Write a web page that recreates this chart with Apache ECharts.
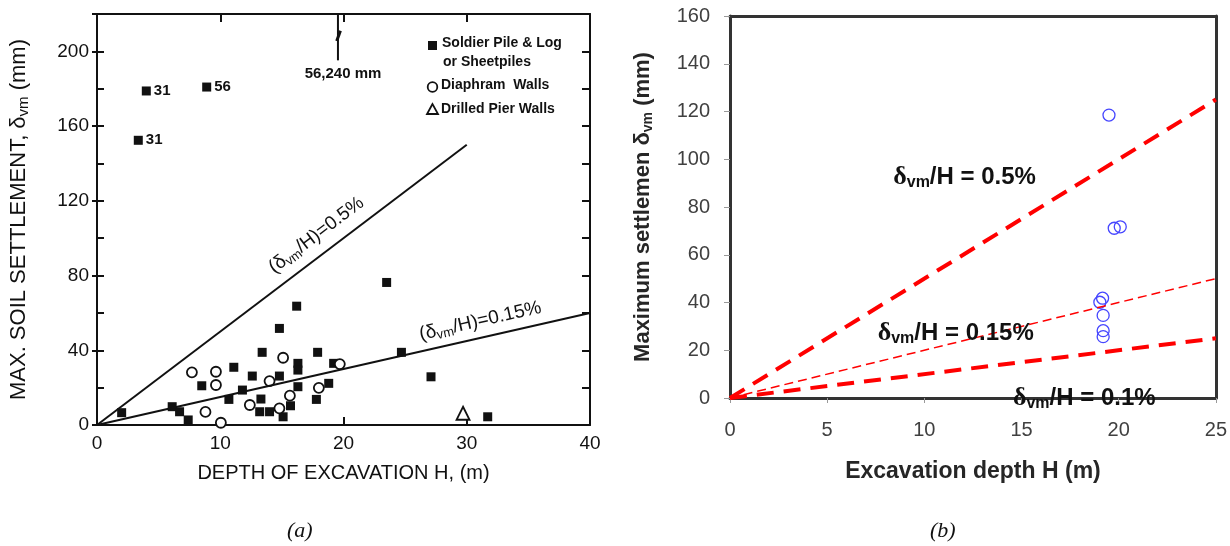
<!DOCTYPE html>
<html><head><meta charset="utf-8">
<script src="https://cdn.jsdelivr.net/npm/echarts@6/dist/echarts.min.js"></script>
<style>html,body{margin:0;padding:0;background:#fff}#c{width:1230px;height:546px}</style>
</head><body><div id="c"></div>
<script>
// ---------- Chart (a) data ----------
const xTicksA = [0, 10, 20, 30, 40];
const yTicksA = [0, 40, 80, 120, 160, 200];
const yMaxA = 220;
const soldierPile = [
  [2.0,6.6],[6.1,9.8],[6.7,7.1],[7.4,2.7],[8.5,21.0],[10.7,13.7],[11.1,30.9],[11.8,18.7],
  [12.6,26.2],[13.4,38.9],[13.3,13.9],[13.2,7.1],[14.0,7.1],[14.8,26.2],[14.8,51.7],[15.1,4.4],
  [15.7,10.3],[16.2,63.6],[16.3,33.0],[16.3,29.4],[16.3,20.5],[17.8,13.7],[17.9,38.9],[18.8,22.3],
  [19.2,33.0],[23.5,76.3],[24.7,38.9],[27.1,25.8],[31.7,4.4]
];
const soldierPileHigh = [[4.0,178.8],[3.35,152.4],[8.9,180.9]];
const soldierPileHighTags = ['31','31','56'];
const diaphragm = [
  [7.7,28.2],[8.8,7.0],[9.65,28.5],[9.65,21.4],[10.05,1.2],[12.4,10.7],[14.0,23.5],
  [14.8,8.9],[15.1,36.0],[15.65,15.7],[18.0,19.9],[19.7,32.6]
];
const drilledPier = [[29.7,6.3]];
const limitA05 = [[0,0],[30,150]];
const limitA015 = [[0,0],[40,60]];
const offscaleMarker = [[19.55,195.2],[19.55,220]];
const offscaleBreak = [[19.45,205.5],[19.75,211]];

// ---------- Chart (b) data ----------
const xTicksB = [0, 5, 10, 15, 20, 25];
const yTicksB = [0, 20, 40, 60, 80, 100, 120, 140, 160];
const measured = [
  [19.5,118.5],[19.77,71.1],[20.08,71.7],[19.17,41.8],[19.03,40.1],[19.2,34.6],[19.2,28.2],[19.2,25.7]
];
const limitB05 = [[0,0],[25,125]];
const limitB015 = [[0,0],[25,50]];
const limitB01 = [[0,0],[25,25]];

const FONT = 'Liberation Sans, Arial, sans-serif';
const INK = '#111';
const chart = echarts.init(document.getElementById('c'), null, {renderer:'canvas'});

function note(xi, yi, pos, text, label) {
  return {
    type:'scatter', xAxisIndex:xi, yAxisIndex:yi, symbolSize:0, silent:true, clip:false, z:5,
    itemStyle:{opacity:1},
    data:[{value:pos}],
    label:Object.assign({show:true, formatter:text}, label)
  };
}

const subA = {fontSize:13, padding:[9,0,0,0], fontFamily:FONT, color:INK};
const labelA = {position:'inside', fontSize:19, color:INK, fontFamily:FONT, rich:{s:subA}};
const subB = {fontSize:16, fontWeight:'bold', padding:[11,0,0,0], fontFamily:FONT, color:'#111'};
const deltaB = {fontSize:26, fontFamily:'Liberation Serif, serif', color:'#111'};
const labelB = {position:'right', distance:0, fontSize:24, fontWeight:'bold', color:'#111', fontFamily:FONT, rich:{s:subB, d:deltaB}};

const lineA = {onZero:false, lineStyle:{color:INK, width:2}};
const lineB = {onZero:false, lineStyle:{color:'#333', width:3}};

const option = {
  animation:false,
  textStyle:{fontFamily:FONT},
  grid:[
    {left:97, top:14, width:493, height:411},
    {left:730, top:16, width:486, height:382}
  ],
  xAxis:[
    {gridIndex:0, type:'value', position:'bottom', min:xTicksA[0], max:xTicksA[xTicksA.length-1], interval:xTicksA[1]-xTicksA[0],
     axisLine:lineA, axisTick:{inside:true, length:8, lineStyle:{color:INK, width:2}},
     axisLabel:{fontSize:19, color:INK, margin:9}, splitLine:{show:false},
     name:'DEPTH OF EXCAVATION H, (m)', nameLocation:'middle', nameGap:38, nameTextStyle:{fontSize:20, color:INK}},
    {gridIndex:0, type:'value', position:'top', min:xTicksA[0], max:xTicksA[xTicksA.length-1], interval:xTicksA[1]-xTicksA[0],
     axisLine:lineA, axisTick:{inside:true, length:8, lineStyle:{color:INK, width:2}},
     axisLabel:{show:false}, splitLine:{show:false}},
    {gridIndex:1, type:'value', position:'bottom', min:xTicksB[0], max:xTicksB[xTicksB.length-1], interval:xTicksB[1]-xTicksB[0],
     axisLine:lineB, axisTick:{length:5, lineStyle:{color:'#999'}},
     axisLabel:{fontSize:20, color:'#404040', margin:22}, splitLine:{show:false},
     name:'Excavation depth H (m)', nameLocation:'middle', nameGap:62, nameTextStyle:{fontSize:23, fontWeight:'bold', color:'#262626'}},
    {gridIndex:1, type:'value', position:'top', min:xTicksB[0], max:xTicksB[xTicksB.length-1],
     axisLine:lineB, axisTick:{show:false}, axisLabel:{show:false}, splitLine:{show:false}}
  ],
  yAxis:[
    {gridIndex:0, type:'value', position:'left', min:0, max:yMaxA, interval:20,
     axisLine:lineA, axisTick:{inside:true, length:7, lineStyle:{color:INK, width:2}},
     axisLabel:{show:false}, splitLine:{show:false}},
    {gridIndex:0, type:'value', position:'left', min:0, max:yMaxA, interval:yTicksA[1]-yTicksA[0],
     axisLine:lineA, axisTick:{length:5, lineStyle:{color:INK, width:2}},
     axisLabel:{fontSize:19, color:INK, margin:8, formatter:v => yTicksA.indexOf(v) >= 0 ? String(v) : ''}, splitLine:{show:false},
     name:'MAX. SOIL SETTLEMENT, δ{s|vm} (mm)', nameLocation:'middle', nameGap:66,
     nameTextStyle:{fontSize:22, color:INK, rich:{s:{fontSize:15, padding:[10,0,0,0], color:INK}}}},
    {gridIndex:0, type:'value', position:'right', min:0, max:yMaxA, interval:20,
     axisLine:lineA, axisTick:{inside:true, length:8, lineStyle:{color:INK, width:2}},
     axisLabel:{show:false}, splitLine:{show:false}},
    {gridIndex:1, type:'value', position:'left', min:yTicksB[0], max:yTicksB[yTicksB.length-1], interval:yTicksB[1]-yTicksB[0],
     axisLine:lineB, axisTick:{length:6, lineStyle:{color:'#999'}},
     axisLabel:{fontSize:20, color:'#404040', margin:20}, splitLine:{show:false},
     name:'Maximum settlemen δ{s|vm} (mm)', nameLocation:'middle', nameGap:75,
     nameTextStyle:{fontSize:22, fontWeight:'bold', color:'#262626', rich:{s:{fontSize:14, fontWeight:'bold', padding:[10,0,0,0], color:'#262626'}}}},
    {gridIndex:1, type:'value', position:'right', min:yTicksB[0], max:yTicksB[yTicksB.length-1],
     axisLine:lineB, axisTick:{show:false}, axisLabel:{show:false}, splitLine:{show:false}}
  ],
  graphic:[
    {type:'rect', shape:{x:428, y:41, width:9, height:9}, style:{fill:INK}},
    {type:'text', left:442, top:36, style:{text:'Soldier Pile & Log', font:'bold 14px '+FONT, fill:INK}},
    {type:'text', left:443, top:55, style:{text:'or Sheetpiles', font:'bold 14px '+FONT, fill:INK}},
    {type:'circle', shape:{cx:432.5, cy:87, r:4.8}, style:{fill:'#fff', stroke:INK, lineWidth:1.8}},
    {type:'text', left:441, top:78, style:{text:'Diaphram  Walls', font:'bold 14px '+FONT, fill:INK}},
    {type:'polygon', shape:{points:[[432.5,104],[427,114],[438,114]]}, style:{fill:'#fff', stroke:INK, lineWidth:1.8}},
    {type:'text', left:441, top:102, style:{text:'Drilled Pier Walls', font:'bold 14px '+FONT, fill:INK}},
    {type:'text', left:287, top:520, style:{text:'(a)', font:'italic 22px Liberation Serif, serif', fill:'#111'}},
    {type:'text', left:930, top:520, style:{text:'(b)', font:'italic 22px Liberation Serif, serif', fill:'#111'}}
  ],
  series:[
    // ---- chart (a) ----
    {type:'line', xAxisIndex:0, yAxisIndex:0, data:limitA05, symbol:'none', lineStyle:{color:INK, width:2}, silent:true},
    {type:'line', xAxisIndex:0, yAxisIndex:0, data:limitA015, symbol:'none', lineStyle:{color:INK, width:2}, silent:true},
    {type:'line', xAxisIndex:0, yAxisIndex:0, data:offscaleMarker, symbol:'none', lineStyle:{color:INK, width:2}, silent:true},
    {type:'line', xAxisIndex:0, yAxisIndex:0, data:offscaleBreak, symbol:'none', lineStyle:{color:INK, width:3}, silent:true},
    {type:'scatter', xAxisIndex:0, yAxisIndex:0, data:soldierPile, symbol:'rect', symbolSize:9, itemStyle:{color:INK, opacity:1}, clip:false},
    {type:'scatter', xAxisIndex:0, yAxisIndex:0, symbol:'rect', symbolSize:9, itemStyle:{color:INK, opacity:1}, clip:false,
     data:soldierPileHigh.map((p,i) => ({value:p, name:soldierPileHighTags[i]})),
     label:{show:true, position:'right', distance:3, formatter:'{b}', fontSize:15, fontWeight:'bold', color:INK}},
    {type:'scatter', xAxisIndex:0, yAxisIndex:0, data:diaphragm, symbol:'circle', symbolSize:10, clip:false,
     itemStyle:{color:'#fff', borderColor:INK, borderWidth:1.8, opacity:1}},
    {type:'scatter', xAxisIndex:0, yAxisIndex:0, data:drilledPier, symbol:'triangle', symbolSize:13, clip:false,
     itemStyle:{color:'#fff', borderColor:INK, borderWidth:1.8, opacity:1}},
    note(0, 0, [17.8, 101.6], '(δ{s|vm}/H)=0.5%', Object.assign({rotate:37.2}, labelA)),
    note(0, 0, [31.1, 55.6], '(δ{s|vm}/H)=0.15%', Object.assign({rotate:12.8}, labelA)),
    note(0, 0, [19.96, 188.2], '56,240 mm', {position:'inside', fontSize:15, fontWeight:'bold', color:INK, fontFamily:FONT}),
    // ---- chart (b) ----
    {type:'line', xAxisIndex:2, yAxisIndex:3, data:limitB05, symbol:'none', lineStyle:{color:'#ff0000', width:4, type:[17,10]}, silent:true},
    {type:'line', xAxisIndex:2, yAxisIndex:3, data:limitB015, symbol:'none', lineStyle:{color:'#ff0000', width:1.5, type:[9,5]}, silent:true},
    {type:'line', xAxisIndex:2, yAxisIndex:3, data:limitB01, symbol:'none', lineStyle:{color:'#ff0000', width:4, type:[17,10]}, silent:true},
    {type:'scatter', xAxisIndex:2, yAxisIndex:3, data:measured, symbol:'circle', symbolSize:12, clip:false,
     itemStyle:{color:'rgba(0,0,0,0)', borderColor:'#4646ff', borderWidth:1.3, opacity:1}},
    note(2, 3, [8.4, 92.6], '{d|δ}{s|vm}/H = 0.5%', labelB),
    note(2, 3, [7.6, 27.2], '{d|δ}{s|vm}/H = 0.15%', labelB),
    note(2, 3, [14.56, 0], '{d|δ}{s|vm}/H = 0.1%', labelB)
  ]
};
chart.setOption(option);
</script>
</body></html>
